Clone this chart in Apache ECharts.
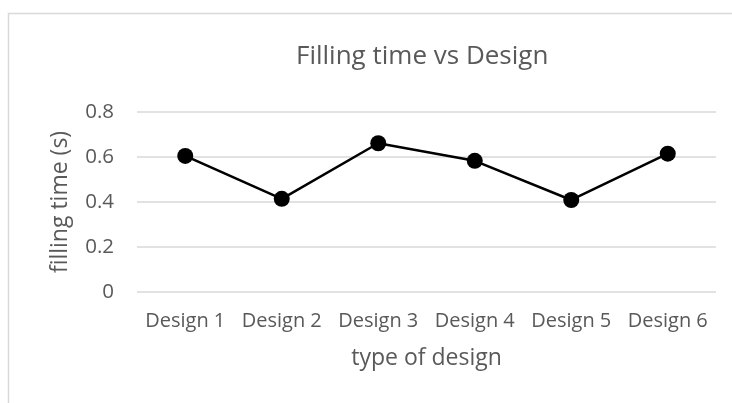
<!DOCTYPE html>
<html>
<head>
<meta charset="utf-8">
<script src="https://cdn.jsdelivr.net/npm/echarts@6/dist/echarts.min.js"></script>
<style>
  html, body { margin: 0; padding: 0; background: #fff; }
  #chart { width: 732px; height: 403px; }
</style>
</head>
<body>
<div id="chart"></div>
<script>
// 折线图：Filling time vs Design
var categories = ['Design 1', 'Design 2', 'Design 3', 'Design 4', 'Design 5', 'Design 6'];
var fillingTime = [0.605, 0.414, 0.661, 0.583, 0.409, 0.615];
var yTicks = [0, 0.2, 0.4, 0.6, 0.8];

var textColor = '#595959';
var fontName = 'Open Sans';

var chart = echarts.init(document.getElementById('chart'));
chart.setOption({
  animation: false,
  backgroundColor: '#fff',
  textStyle: { fontFamily: fontName },
  title: {
    text: 'Filling time vs Design',
    left: 291,
    top: 39,
    textStyle: { color: textColor, fontSize: 26, fontWeight: 'normal', fontFamily: fontName }
  },
  // 图表外框（左、上）
  graphic: [{
    type: 'rect',
    shape: { x: 8.5, y: 13.5, width: 900, height: 600 },
    style: { fill: 'none', stroke: '#d9d9d9', lineWidth: 1.5 },
    silent: true
  }],
  grid: { left: 137, right: 16, top: 112, bottom: 111 },
  xAxis: {
    type: 'category',
    data: categories,
    boundaryGap: true,
    name: 'type of design',
    nameLocation: 'middle',
    nameGap: 55,
    nameTextStyle: { color: textColor, fontSize: 23, fontFamily: fontName },
    axisLine: { show: false },
    axisTick: { show: false },
    axisLabel: {
      color: textColor, fontSize: 20, margin: 19, fontFamily: fontName,
      interval: 0, hideOverlap: false
    }
  },
  yAxis: {
    type: 'value',
    min: yTicks[0],
    max: yTicks[yTicks.length - 1],
    interval: 0.2,
    name: 'filling time (s)',
    nameLocation: 'middle',
    nameGap: 65,
    nameTextStyle: { color: textColor, fontSize: 23, fontFamily: fontName },
    axisLine: { show: false },
    axisTick: { show: false },
    axisLabel: {
      color: textColor, fontSize: 20.5, margin: 23, fontFamily: fontName,
      formatter: function (v) { return String(Math.round(v * 10) / 10); }
    },
    splitLine: { lineStyle: { color: '#d9d9d9', width: 1.5 } }
  },
  series: [{
    name: 'filling time',
    type: 'line',
    data: fillingTime,
    symbol: 'circle',
    symbolSize: 16,
    itemStyle: { color: '#000' },
    lineStyle: { color: '#000', width: 2.5 }
  }]
});
</script>
</body>
</html>
